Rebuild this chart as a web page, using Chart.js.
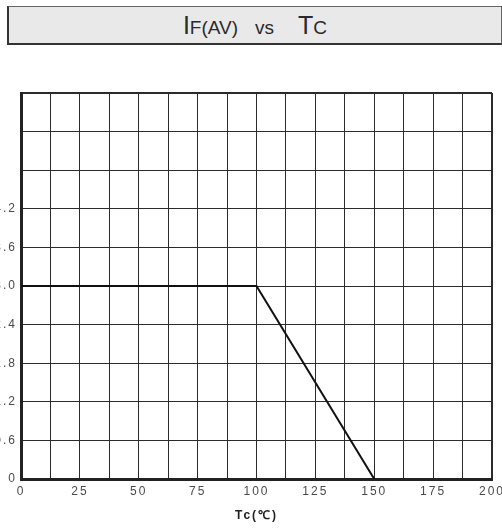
<!DOCTYPE html>
<html>
<head>
<meta charset="utf-8">
<script src="https://cdn.jsdelivr.net/npm/chart.js@4.4.1/dist/chart.umd.min.js"></script>
<style>
  html, body { margin: 0; padding: 0; background: #fff; overflow: hidden; }
  body { width: 502px; height: 529px; position: relative; }
  #title-box {
    position: absolute; left: 7px; top: 6px; width: 492px; height: 36px;
    background: #e9e9e9; border: 1px solid #666; border-left: 2px solid #333; border-bottom: 2px solid #333;
    font-family: 'Liberation Sans', Arial, sans-serif; color: #2a2a2a;
    display: flex; align-items: baseline; justify-content: center; line-height: 36px;
    z-index: 2;
  }
  #title-box .big { font-size: 25px; }
  #title-box .small { font-size: 19px; }
  #chart-wrap { position: absolute; left: -30px; top: 0; width: 532px; height: 529px; }
</style>
</head>
<body>
<div id="title-box">
  <span class="big">I</span><span class="small">F(AV)</span>
  <span class="small" style="margin-left:17px;margin-right:24px">vs</span>
  <span class="big">T</span><span class="small">C</span>
</div>
<div id="chart-wrap"><canvas id="curveChart"></canvas></div>
<script>
// case temperature (°C) and average forward current (A)
const tcValues = [0, 100, 150];
const ifValues = [3.0, 3.0, 0];

const xMin = 0, xMax = 200, xStep = 12.5;
const yMin = 0, yMax = 6.0, yStep = 0.6;
const yLabelMax = 4.2;

const gridColor = '#2b2b2b';
const tickColor = '#4a4a4a';

// letter spacing for tick text, canvas state resets on resize so set on every draw
const spacingPlugin = {
    id: 'spacing',
    beforeDraw(chart) {
        chart.ctx.letterSpacing = '2px';
    }
};

const edgeWidth = (ctx) => {
    const n = ctx.scale.ticks.length;
    return (ctx.index === 0 || ctx.index === n - 1) ? 2 : 1;
};

const ctx = document.getElementById('curveChart').getContext('2d');
new Chart(ctx, {
    type: 'line',
    data: {
        datasets: [{
            data: tcValues.map((t, i) => ({ x: t, y: ifValues[i] })),
            borderColor: '#111',
            borderWidth: 2,
            pointRadius: 0,
            tension: 0,
            fill: false
        }]
    },
    plugins: [spacingPlugin],
    options: {
        responsive: true,
        maintainAspectRatio: false,
        animation: false,
        layout: { padding: { top: 93, right: 10, left: 0, bottom: 0 } },
        plugins: {
            legend: { display: false },
            tooltip: { enabled: false }
        },
        scales: {
            x: {
                type: 'linear',
                min: xMin,
                max: xMax,
                ticks: {
                    stepSize: xStep,
                    autoSkip: false,
                    maxRotation: 0,
                    padding: 5,
                    color: tickColor,
                    font: { family: "'Liberation Sans', Arial, sans-serif", size: 12 },
                    callback: (v) => (v % 25 === 0 ? String(v) : '')
                },
                grid: { color: gridColor, lineWidth: edgeWidth, drawTicks: false },
                border: { display: true, color: '#222', width: 3 },
                title: {
                    display: true,
                    text: 'Tc(℃)',
                    color: '#222',
                    font: { family: "'Liberation Sans', Arial, sans-serif", size: 12, weight: 'bold' },
                    padding: { top: 4, bottom: 6 }
                },
                afterFit(scale) {
                    scale.height = 50;
                    scale.paddingLeft = 0;
                    scale.paddingRight = 0;
                }
            },
            y: {
                min: yMin,
                max: yMax,
                ticks: {
                    stepSize: yStep,
                    padding: 4,
                    color: tickColor,
                    font: { family: "'Liberation Sans', Arial, sans-serif", size: 12 },
                    callback: (v) => {
                        if (v > yLabelMax + 0.001) return '';
                        return v === 0 ? '0' : v.toFixed(1);
                    }
                },
                grid: { color: gridColor, lineWidth: edgeWidth, drawTicks: false },
                border: { display: true, color: '#222', width: 3 },
                afterFit(scale) {
                    scale.width = 51;
                    scale.paddingTop = 0;
                    scale.paddingBottom = 0;
                }
            }
        }
    }
});
</script>
</body>
</html>
